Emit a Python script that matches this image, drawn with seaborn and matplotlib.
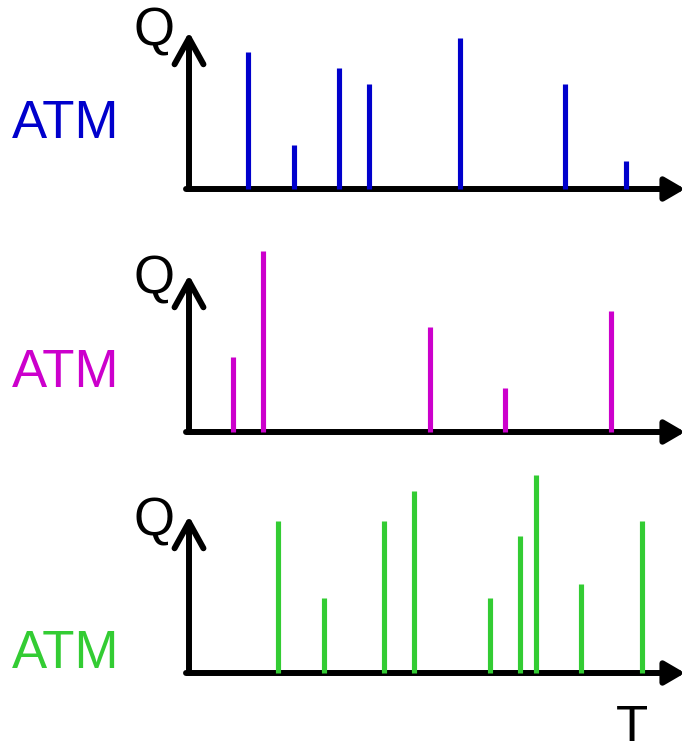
# Diagrama de llegadas al ATM: tres series de impulsos Q contra T
import matplotlib
matplotlib.use("Agg")
import matplotlib.pyplot as plt
import seaborn as sns
from matplotlib.patches import FancyArrowPatch

# ==============================
# Datos (T en 0..100 a lo largo del eje, Q en 0..100 hasta la punta)
# ==============================
tiempos_azul = [11.9, 21.1, 30.3, 36.3, 54.6, 75.9, 88.1]
cargas_azul = [87, 28, 77, 67, 96, 67, 18]

tiempos_magenta = [8.8, 14.9, 48.5, 63.7, 85.1]
cargas_magenta = [48, 115, 67, 28, 77]

tiempos_verde = [18.0, 27.2, 39.4, 45.4, 60.7, 66.8, 69.9, 79.1, 91.3]
cargas_verde = [97, 48, 97, 116, 48, 87, 126, 57, 97]

etiqueta = "ATM"
nombre_y = "Q"
nombre_x = "T"
colores = ["#0000cc", "#cc00cc", "#33cc33"]

series = [
    (tiempos_azul, cargas_azul),
    (tiempos_magenta, cargas_magenta),
    (tiempos_verde, cargas_verde),
]

# ==============================
# Estilo
# ==============================
sns.set_theme(style="white")
plt.rcParams["font.family"] = ["Liberation Sans", "DejaVu Sans"]

W, H = 691, 741
fig = plt.figure(figsize=(W / 100, H / 100), dpi=100)

izq, der, alto_eje = 189, 685, 157
bases = [189, 432, 673]
base_atm = [138, 387, 668]
base_q = [46, 293, 536]
grosor_eje = 4.3
grosor_barra = 3.7

for i, (t, q) in enumerate(series):
    ax = fig.add_axes([izq / W, 1 - bases[i] / H, (der - izq) / W, alto_eje / H])
    ax.set_xlim(0, 100)
    ax.set_ylim(0, 100)
    ax.set_axis_off()

    ax.vlines(t, 0, q, color=colores[i], linewidth=grosor_barra, clip_on=False)

    # eje T con punta rellena
    flecha_x = FancyArrowPatch((-0.006, 0), (1, 0), transform=ax.transAxes,
                               arrowstyle="-|>,head_length=0.6,head_width=0.35",
                               mutation_scale=20, linewidth=grosor_eje, color="black",
                               shrinkA=0, shrinkB=0, clip_on=False)
    ax.add_patch(flecha_x)
    # eje Q con punta abierta
    flecha_y = FancyArrowPatch((0, 0), (0, 1), transform=ax.transAxes,
                               arrowstyle="->,head_length=0.94,head_width=0.52",
                               mutation_scale=20, linewidth=grosor_eje, color="black",
                               shrinkA=0, shrinkB=0, clip_on=False,
                               joinstyle="round", capstyle="round")
    ax.add_patch(flecha_y)

    fig.text(12 / W, 1 - base_atm[i] / H, etiqueta, color=colores[i],
             fontsize=38, ha="left", va="baseline")
    fig.text(133 / W, 1 - base_q[i] / H, nombre_y, color="black",
             fontsize=38, ha="left", va="baseline")

fig.text(632 / W, -2 / H, nombre_x, color="black", fontsize=38, ha="center", va="baseline")

fig.savefig("out.png", dpi=100)
